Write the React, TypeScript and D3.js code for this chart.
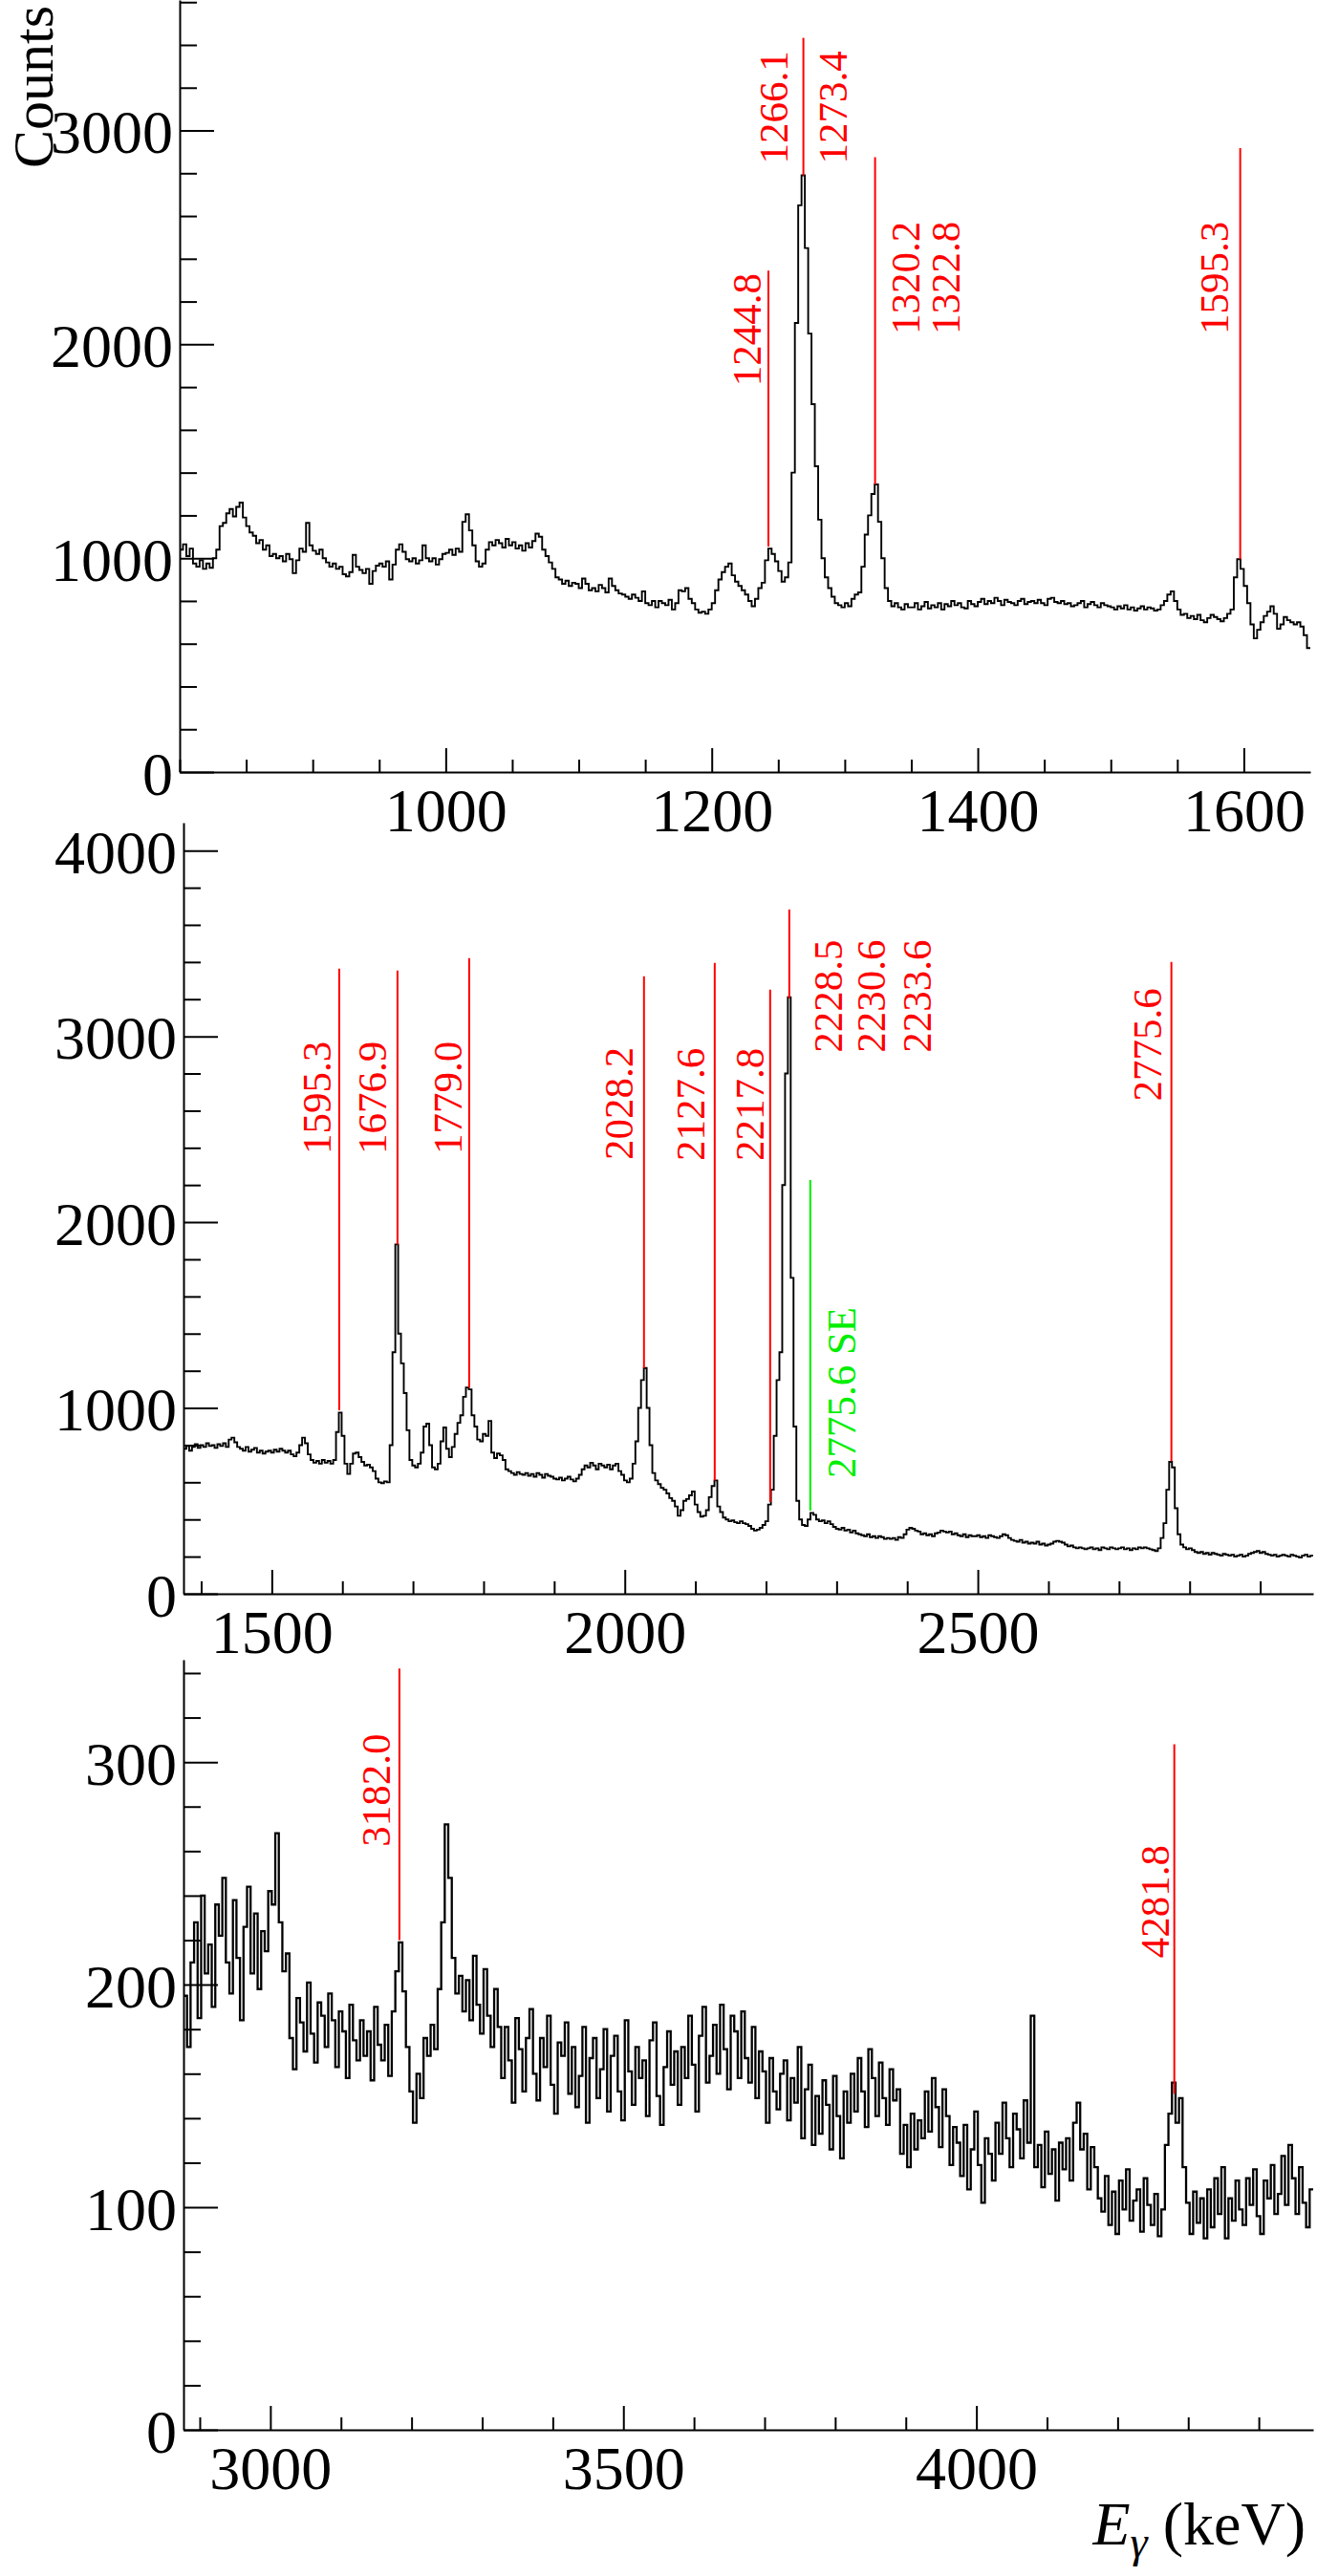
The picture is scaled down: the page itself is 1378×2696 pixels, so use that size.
import { useRef, useEffect } from "react";
import * as d3 from "d3";

const W = 1378;
const H = 2696;
const FONT = "'Liberation Serif', 'Times New Roman', Times, serif";

// ---- panel 1: 800-1650 keV, 2.5 keV bins ----
const p1Start = 800;
const p1Bin = 2.5;
const p1Counts = [
  1040, 1065, 1010, 1045, 975, 960, 990, 950, 975, 955,
  1000, 1040, 1150, 1165, 1210, 1230, 1195, 1240, 1260, 1190,
  1150, 1120, 1105, 1070, 1085, 1040, 1060, 1010, 1020, 1000,
  1010, 985, 1020, 995, 930, 990, 1045, 1030, 1165, 1060,
  1035, 1020, 1040, 1000, 980, 960, 975, 950, 960, 925,
  915, 935, 1015, 960, 945, 930, 950, 880, 940, 965,
  975, 960, 985, 900, 970, 1040, 1065, 1030, 995, 985,
  1000, 975, 990, 1060, 1000, 985, 1000, 970, 995, 1020,
  1025, 1040, 1015, 1045, 1030, 1170, 1205, 1130, 1060, 985,
  960, 975, 1040, 1075, 1060, 1085, 1070, 1050, 1090, 1060,
  1075, 1045, 1060, 1035, 1070, 1050, 1080, 1115, 1100, 1040,
  1010, 980, 950, 910, 900, 880, 895, 870, 885, 880,
  860, 905, 880, 850, 860, 845, 875, 860, 840, 905,
  870, 850, 835, 830, 820, 810, 830, 815, 800, 845,
  790, 780, 800, 770, 800, 790, 780, 805, 760, 790,
  850, 845, 860, 810, 790, 760, 745, 750, 740, 760,
  790, 850, 900, 935, 960, 975, 920, 890, 870, 850,
  830, 800, 775, 810, 860, 885, 990, 1045, 1020, 985,
  940, 890, 910, 980, 1400, 2100, 2650, 2790, 2450, 2050,
  1720, 1430, 1180, 1000, 910, 860, 820, 790, 780, 770,
  790, 775, 810, 830, 840, 960, 1110, 1200, 1300, 1345,
  1170, 1000, 860, 800, 775, 790, 770, 760, 785, 770,
  770, 790, 760, 775, 795, 765, 780, 770, 790, 760,
  785, 775, 800, 780, 790, 770, 765, 800, 785, 775,
  795, 810, 785, 800, 790, 815, 800, 780, 805, 795,
  790, 780, 800, 810, 785, 795, 800, 790, 805, 790,
  780, 810, 815, 795, 790, 800, 785, 790, 775, 780,
  790, 800, 770, 785, 795, 780, 770, 790, 780, 775,
  770, 760, 775, 765, 780, 760, 770, 755, 765, 775,
  760, 770, 765, 755, 760, 780, 800, 830, 845, 800,
  760, 735, 740, 720, 730, 715, 735, 710, 700, 720,
  735, 725, 715, 705, 720, 740, 760, 910, 995, 950,
  870, 790, 690, 625, 665, 700, 730, 750, 775, 740,
  670, 690, 725, 710, 700, 690, 700, 680, 640, 580,
];
const p1XTicks = [1000, 1200, 1400, 1600];
const p1YTicks = [0, 1000, 2000, 3000];
const p1Lines = [
  { e: 1242.6, from: 1054, to: 2344 },
  { e: 1268.9, from: 2790, to: 3433 },
  { e: 1322.8, from: 1345, to: 2875 },
  { e: 1597.3, from: 995, to: 2917 },
];
const p1Labels = [
  { text: "1244.8", e: 1236.8, at: 1804 },
  { text: "1266.1", e: 1256.9, at: 2844 },
  { text: "1273.4", e: 1301.4, at: 2844 },
  { text: "1320.2", e: 1356, at: 2046 },
  { text: "1322.8", e: 1386.6, at: 2046 },
  { text: "1595.3", e: 1588, at: 2046 },
];

// ---- panel 2: 1375-2975 keV, 4 keV bins ----
const p2Start = 1375;
const p2Bin = 4;
const p2Counts = [
  780, 795, 770, 790, 805, 785, 800, 790, 810, 795,
  800, 785, 805, 795, 810, 790, 830, 840, 815, 790,
  780, 770, 790, 765, 775, 785, 760, 770, 755, 765,
  770, 760, 775, 765, 780, 770, 760, 770, 750, 740,
  760, 800, 840, 810, 750, 720, 705, 715, 700, 720,
  705, 715, 700, 720, 870, 975, 850, 700, 645, 700,
  755, 760, 735, 710, 690, 695, 680, 660, 620, 600,
  595, 605, 600, 800, 1300, 1880, 1400, 1240, 1080, 880,
  720, 690, 680, 700, 760, 900, 915, 800, 680, 670,
  700, 820, 895, 780, 735, 790, 860, 920, 960, 1060,
  1110, 1100, 960, 900, 830, 820, 860, 850, 930, 760,
  730, 755, 745, 720, 670, 660, 650, 640, 655, 645,
  640, 650, 635, 645, 630, 650, 640, 625, 645, 635,
  630, 620, 615, 625, 610, 620, 630, 615, 605, 620,
  640, 670, 690, 680, 705, 690, 670, 700, 690, 680,
  695, 670, 690, 700, 660, 640, 610, 600, 620, 700,
  820, 1000, 1150, 1215, 1000, 800, 650, 610, 590, 570,
  560, 540, 515, 500, 470, 420, 450, 500, 510, 530,
  550, 480, 440, 415, 420, 450, 520, 580, 610, 470,
  440, 410, 400, 390, 395, 385, 380, 390, 380, 375,
  365, 350, 340, 345, 355, 370, 390, 480, 560, 850,
  1150, 1300, 2200, 2800, 3210, 1700, 900, 500, 400, 370,
  365, 400, 435, 425, 400, 390, 395, 380, 390, 375,
  360, 350, 345, 355, 340, 345, 330, 340, 325, 320,
  315, 310, 320, 305, 310, 300, 310, 305, 295, 300,
  295, 300, 290, 305, 300, 320, 345, 355, 350, 340,
  335, 320, 325, 315, 320, 310, 325, 330, 340, 335,
  330, 335, 320, 325, 315, 310, 320, 305, 315, 310,
  310, 315, 305, 310, 300, 315, 310, 305, 300, 310,
  320, 315, 300, 290, 285, 280, 290, 275, 280, 270,
  275, 270, 280, 265, 270, 260, 265, 270, 280, 285,
  280, 275, 265, 255, 260, 250, 245, 250, 245, 240,
  245, 250, 240, 245, 235, 250, 245, 240, 250, 245,
  240, 245, 250, 240, 245, 235, 245, 240, 250, 245,
  250, 245, 240, 235, 230, 245, 300, 380, 560, 710,
  680, 460, 320, 265, 250, 240, 245, 235, 225, 220,
  225, 215, 220, 210, 220, 215, 210, 205, 215, 210,
  205, 210, 200, 205, 210, 200, 205, 215, 220, 225,
  230, 220, 225, 215, 210, 205, 210, 200, 205, 210,
  205, 200, 210, 205, 200, 195, 205, 210, 200, 205,
];
const p2XTicks = [1500, 2000, 2500];
const p2YTicks = [0, 1000, 2000, 3000, 4000];
const p2Lines = [
  { e: 1595.6, from: 988, to: 3364 },
  { e: 1678.1, from: 1880, to: 3354 },
  { e: 1779.6, from: 1110, to: 3421 },
  { e: 2027.2, from: 1215, to: 3323 },
  { e: 2127.4, from: 610, to: 3395 },
  { e: 2205.9, from: 494, to: 3251 },
  { e: 2233.0, from: 3205, to: 3683 },
  { e: 2774.2, from: 713, to: 3400 },
];
const p2Labels = [
  { text: "1595.3", e: 1583.4, at: 2366 },
  { text: "1676.9", e: 1661.9, at: 2366 },
  { text: "1779.0", e: 1768.8, at: 2366 },
  { text: "2028.2", e: 2011, at: 2335 },
  { text: "2127.6", e: 2113, at: 2330 },
  { text: "2217.8", e: 2197, at: 2330 },
  { text: "2228.5", e: 2307.3, at: 2912 },
  { text: "2230.6", e: 2368, at: 2912 },
  { text: "2233.6", e: 2433, at: 2912 },
  { text: "2775.6", e: 2759.3, at: 2651 },
];
// single-escape marker
const p2SeLines = [{ e: 2262.7, from: 448, to: 2227 }];
const p2SeLabels = [{ text: "2775.6 SE", e: 2326, at: 622 }];

// ---- panel 3: 2877-4477 keV, 5 keV bins ----
const p3Start = 2877;
const p3Bin = 5;
const p3Counts = [
  195, 172, 210, 228, 185, 240, 205, 218, 190, 236,
  222, 248, 210, 196, 238, 212, 184, 226, 244, 205,
  232, 198, 224, 215, 242, 236, 268, 228, 206, 214,
  176, 162, 194, 183, 170, 201, 178, 165, 192, 186,
  172, 196, 184, 163, 188, 179, 158, 191, 175, 166,
  184, 168, 179, 157, 190, 173, 166, 182, 159, 188,
  206, 219, 197, 172, 152, 138, 160, 149, 176, 168,
  182, 171, 198, 228, 272, 248, 212, 196, 204, 188,
  202, 184, 213, 191, 178, 207, 186, 172, 198, 181,
  158, 181, 166, 147, 185, 171, 152, 176, 189, 160,
  148, 176, 163, 186, 155, 142, 174, 168, 183, 151,
  172, 145, 159, 181, 138, 167, 176, 149, 162, 180,
  143, 168, 177, 152, 139, 184, 161, 146, 172, 158,
  166, 141, 175, 183, 150, 137, 163, 179, 155, 170,
  146, 172, 158, 186, 164, 143, 177, 190, 156, 168,
  182, 160, 191, 171, 153, 186, 179, 158, 188, 167,
  156, 181, 149, 170, 161, 138, 167, 152, 144, 160,
  166, 139, 158, 147, 172, 131, 153, 164, 128, 150,
  133, 157, 146, 126, 159, 141, 122, 152, 138, 160,
  143, 167, 152, 136, 171, 158, 141, 165, 149, 137,
  162, 148, 153, 124, 137, 118, 142, 126, 139, 131,
  152, 134, 158, 145, 127, 153, 141, 119, 136, 129,
  114, 137, 108, 126, 143, 119, 102, 131, 124, 112,
  138, 124, 147, 131, 118, 142, 135, 122, 148, 129,
  186, 118, 128, 109, 134, 115, 126, 103, 129, 117,
  131, 112, 138, 147, 126, 133, 108, 127, 118, 104,
  98, 114, 92, 107, 88, 112, 99, 117, 94, 103,
  108, 89, 113, 101, 92, 106, 87, 99, 128, 142,
  156, 138, 149, 118, 102, 88, 107, 93, 104, 86,
  108, 91, 113, 97, 118, 86, 104, 94, 112, 99,
  92, 113, 101, 117, 96, 88, 112, 104, 119, 97,
  106, 123, 101, 128, 113, 97, 118, 102, 91, 108,
];
const p3XTicks = [3000, 3500, 4000];
const p3YTicks = [0, 100, 200, 300];
const p3Lines = [
  { e: 3182.8, from: 220, to: 342 },
  { e: 4280.3, from: 151, to: 308 },
];
const p3Labels = [
  { text: "3182.0", e: 3170, at: 262 },
  { text: "4281.8", e: 4272.8, at: 212 },
];

type Mark = { e: number; from: number; to: number };
type Label = { text: string; e: number; at: number };

interface Panel {
  counts: number[];
  start: number;
  bin: number;
  xDomain: [number, number];
  yMax: number;
  xTicks: number[];
  xMinor: number;
  yTicks: number[];
  yMinor: number;
  lines: Mark[];
  labels: Label[];
  seLines?: Mark[];
  seLabels?: Label[];
  lineWidth: number;
  box: { left: number; right: number; top: number; bottom: number };
}

const panels: Panel[] = [
  {
    counts: p1Counts, start: p1Start, bin: p1Bin, xDomain: [800, 1650], yMax: 3610,
    xTicks: p1XTicks, xMinor: 50, yTicks: p1YTicks, yMinor: 200,
    lines: p1Lines, labels: p1Labels, lineWidth: 1.9,
    box: { left: 188, right: 1371, top: 0, bottom: 808 },
  },
  {
    counts: p2Counts, start: p2Start, bin: p2Bin, xDomain: [1375, 2975], yMax: 4150,
    xTicks: p2XTicks, xMinor: 100, yTicks: p2YTicks, yMinor: 200,
    lines: p2Lines, labels: p2Labels, seLines: p2SeLines, seLabels: p2SeLabels, lineWidth: 1.9,
    box: { left: 192, right: 1374, top: 861, bottom: 1668 },
  },
  {
    counts: p3Counts, start: p3Start, bin: p3Bin, xDomain: [2877, 4477], yMax: 346,
    xTicks: p3XTicks, xMinor: 100, yTicks: p3YTicks, yMinor: 20,
    lines: p3Lines, labels: p3Labels, lineWidth: 2.3,
    box: { left: 192, right: 1374, top: 1737, bottom: 2543 },
  },
];

function drawPanel(svg: d3.Selection<SVGSVGElement, unknown, null, undefined>, p: Panel) {
  const { left, right, top, bottom } = p.box;
  const x = d3.scaleLinear().domain(p.xDomain).range([left, right]);
  const y = d3.scaleLinear().domain([0, p.yMax]).range([bottom, top]);
  const g = svg.append("g");

  // spectrum as step histogram
  const pts: [number, number][] = p.counts.map((c, i) => [p.start + i * p.bin, c]);
  pts.push([p.start + p.counts.length * p.bin, p.counts[p.counts.length - 1]]);
  const step = d3
    .line<[number, number]>()
    .x((d) => x(d[0]))
    .y((d) => y(d[1]))
    .curve(d3.curveStepAfter);
  g.append("path")
    .attr("d", step(pts))
    .attr("fill", "none")
    .attr("stroke", "#000")
    .attr("stroke-width", p.lineWidth);

  // marker lines + labels
  const drawMarks = (lines: Mark[], labels: Label[], color: string) => {
    g.selectAll(null)
      .data(lines)
      .enter()
      .append("line")
      .attr("x1", (d) => x(d.e))
      .attr("x2", (d) => x(d.e))
      .attr("y1", (d) => y(d.from))
      .attr("y2", (d) => y(d.to))
      .attr("stroke", color)
      .attr("stroke-width", 2);

    g.selectAll(null)
      .data(labels)
      .enter()
      .append("text")
      .attr("x", (d) => x(d.e))
      .attr("y", (d) => y(d.at))
      .attr("transform", (d) => `rotate(-90, ${x(d.e)}, ${y(d.at)})`)
      .style("font-family", FONT)
      .attr("font-size", 43)
      .attr("fill", color)
      .text((d) => d.text);
  };
  drawMarks(p.lines, p.labels, "#ff0000");
  if (p.seLines && p.seLabels) drawMarks(p.seLines, p.seLabels, "#00ee00");

  // minor tick values
  const yMinorVals = d3.range(0, p.yMax, p.yMinor).filter((v) => !p.yTicks.includes(v));
  const xMinorVals = d3
    .range(Math.ceil(p.xDomain[0] / p.xMinor) * p.xMinor, p.xDomain[1], p.xMinor)
    .filter((v) => !p.xTicks.includes(v));

  // Y axis
  g.append("g")
    .attr("transform", `translate(${left},0)`)
    .call(
      d3.axisLeft(y).tickValues(p.yTicks).tickSize(-36).tickSizeOuter(0).tickPadding(7)
        .tickFormat(d3.format("d"))
    )
    .call((a) => a.select(".domain").attr("stroke-width", 2))
    .call((a) => a.selectAll(".tick line").attr("stroke-width", 2))
    .call((a) =>
      a.selectAll(".tick text")
        .style("font-family", FONT)
        .attr("font-size", 64)
        .attr("fill", "#000")
        .attr("dy", "0.36em")
    );
  g.append("g")
    .attr("transform", `translate(${left},0)`)
    .call(d3.axisLeft(y).tickValues(yMinorVals).tickSize(-18).tickSizeOuter(0).tickFormat(() => ""))
    .call((a) => a.select(".domain").remove())
    .call((a) => a.selectAll(".tick line").attr("stroke-width", 2));

  // X axis
  g.append("g")
    .attr("transform", `translate(0,${bottom})`)
    .call(
      d3.axisBottom(x).tickValues(p.xTicks).tickSize(-25).tickSizeOuter(0).tickPadding(17)
        .tickFormat(d3.format("d"))
    )
    .call((a) => a.select(".domain").attr("stroke-width", 2))
    .call((a) => a.selectAll(".tick line").attr("stroke-width", 2))
    .call((a) =>
      a.selectAll(".tick text")
        .style("font-family", FONT)
        .attr("font-size", 64)
        .attr("fill", "#000")
    );
  g.append("g")
    .attr("transform", `translate(0,${bottom})`)
    .call(d3.axisBottom(x).tickValues(xMinorVals).tickSize(-13).tickSizeOuter(0).tickFormat(() => ""))
    .call((a) => a.select(".domain").remove())
    .call((a) => a.selectAll(".tick line").attr("stroke-width", 2));
}

export default function App() {
  const svgRef = useRef<SVGSVGElement>(null);

  useEffect(() => {
    if (!svgRef.current) return;
    const svg = d3.select(svgRef.current);
    svg.selectAll("*").remove();

    svg.append("rect").attr("width", W).attr("height", H).attr("fill", "#fff");
    panels.forEach((p) => drawPanel(svg, p));

    // Y title
    svg.append("text")
      .attr("x", 55)
      .attr("y", 6)
      .attr("transform", "rotate(-90, 55, 6)")
      .attr("text-anchor", "end")
      .style("font-family", FONT)
      .attr("font-size", 60)
      .attr("fill", "#000")
      .text("Counts");

    // X title
    const xt = svg.append("text")
      .attr("x", 1366)
      .attr("y", 2663)
      .attr("text-anchor", "end")
      .style("font-family", FONT)
      .attr("font-size", 64)
      .attr("fill", "#000");
    xt.append("tspan").attr("font-style", "italic").text("E");
    xt.append("tspan").attr("font-style", "italic").attr("font-size", 46).attr("dy", 13).text("γ");
    xt.append("tspan").attr("dy", -13).text(" (keV)");
  }, []);

  return (
    <svg
      ref={svgRef}
      width={W}
      height={H}
      style={{ position: "absolute", left: 0, top: 0, display: "block" }}
    />
  );
}
